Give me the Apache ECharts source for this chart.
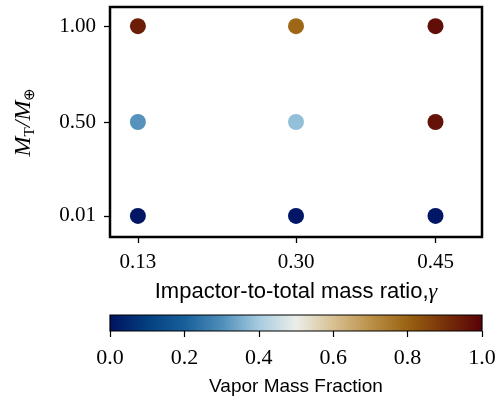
<!DOCTYPE html>
<html>
<head>
<meta charset="utf-8">
<script src="https://cdn.jsdelivr.net/npm/echarts@6/dist/echarts.min.js"></script>
<style>
  html, body { margin: 0; padding: 0; background: #fff; }
  #chart { width: 500px; height: 399px; }
</style>
</head>
<body>
<div id="chart"></div>
<script>
  // impactor-to-total mass ratio (x) and target mass (y)
  var gammaValues = [0.13, 0.30, 0.45]
  var targetMasses = [0.01, 0.50, 1.00]
  // vapor mass fraction, one row per target mass
  var vaporLow = [0.01, 0.01, 0.01]    // M_T = 0.01
  var vaporMid = [0.31, 0.38, 0.96]    // M_T = 0.50
  var vaporHigh = [0.94, 0.79, 0.97]   // M_T = 1.00
  var colorbarTicks = [0, 0.2, 0.4, 0.6, 0.8, 1.0]
  // vik-like diverging colormap
  var cmapColors = ['#011261', '#033e7e', '#175f9a', '#4d8db8', '#a6cbe0', '#ebeee9',
                    '#d8c092', '#bb9049', '#9a6212', '#773008', '#590008']

  var vaporRows = [vaporLow, vaporMid, vaporHigh]
  var points = []
  targetMasses.forEach(function (m, i) {
    gammaValues.forEach(function (g, j) {
      points.push([g, m, vaporRows[i][j]])
    })
  })

  var serif = 'Liberation Serif'
  var sans = 'Liberation Sans'
  var stops = cmapColors.map(function (c, i) {
    return { offset: i / (cmapColors.length - 1), color: c }
  })

  var chart = echarts.init(document.getElementById('chart'))
  chart.setOption({
    animation: false,
    grid: [{
      left: 110, right: 18, top: 7, bottom: 162,
      show: true, borderColor: '#000', borderWidth: 2.5, backgroundColor: '#fff'
    }, {
      left: 110, right: 18, top: 315, height: 16,
      show: true, borderColor: '#000', borderWidth: 1.2,
      backgroundColor: new echarts.graphic.LinearGradient(0, 0, 1, 0, stops)
    }],
    visualMap: {
      show: false,
      seriesIndex: 0,
      dimension: 2,
      min: 0,
      max: 1,
      inRange: { color: cmapColors }
    },
    xAxis: [{
      gridIndex: 0,
      type: 'value',
      min: 0.1,
      max: 0.5,
      splitLine: { show: false },
      axisLine: { show: false, onZero: false },
      axisTick: { show: true, customValues: gammaValues, length: 6, lineStyle: { color: '#000', width: 1.3 } },
      axisLabel: {
        customValues: gammaValues, margin: 15, color: '#000', fontFamily: serif, fontSize: 21,
        formatter: function (v) { return v.toFixed(2) }
      },
      name: '{s|Impactor-to-total mass ratio,}{g|γ}',
      nameLocation: 'middle',
      nameGap: 44,
      nameTextStyle: {
        rich: {
          s: { fontFamily: sans, fontSize: 22, color: '#000' },
          g: { fontFamily: serif, fontStyle: 'italic', fontSize: 22, color: '#000' }
        }
      }
    }, {
      gridIndex: 1,
      type: 'value',
      min: 0,
      max: 1,
      interval: 0.2,
      splitLine: { show: false },
      axisLine: { show: false, onZero: false },
      axisTick: { show: true, customValues: colorbarTicks, length: 6, lineStyle: { color: '#000', width: 1.2 } },
      axisLabel: {
        customValues: colorbarTicks, margin: 16, color: '#000', fontFamily: serif, fontSize: 22,
        formatter: function (v) { return v.toFixed(1) }
      },
      name: 'Vapor Mass Fraction',
      nameLocation: 'middle',
      nameGap: 46,
      nameTextStyle: { fontFamily: sans, fontSize: 19, color: '#000' }
    }],
    yAxis: [{
      gridIndex: 0,
      type: 'value',
      min: -0.1,
      max: 1.1,
      splitLine: { show: false },
      axisLine: { show: false, onZero: false },
      axisTick: { show: true, customValues: targetMasses, length: 6, lineStyle: { color: '#000', width: 1.3 } },
      axisLabel: {
        customValues: targetMasses, margin: 14, color: '#000', fontFamily: serif, fontSize: 21,
        formatter: function (v) { return v.toFixed(2) }
      },
      name: '{m|M}{t|T}{n|/}{m|M}{t|⊕}',
      nameLocation: 'middle',
      nameGap: 72,
      nameTextStyle: {
        rich: {
          m: { fontFamily: serif, fontStyle: 'italic', fontSize: 24, color: '#000', lineHeight: 28 },
          n: { fontFamily: serif, fontStyle: 'italic', fontSize: 24, color: '#000', lineHeight: 28 },
          t: { fontFamily: serif, fontSize: 15, color: '#000', lineHeight: 28, padding: [12, 0, 0, 0] }
        }
      }
    }, {
      gridIndex: 1,
      type: 'value',
      min: 0,
      max: 1,
      show: false
    }],
    series: [{
      type: 'scatter',
      xAxisIndex: 0,
      yAxisIndex: 0,
      symbolSize: 16,
      itemStyle: { opacity: 1 },
      data: points
    }, {
      type: 'scatter',
      xAxisIndex: 1,
      yAxisIndex: 1,
      data: []
    }]
  })
</script>
</body>
</html>
